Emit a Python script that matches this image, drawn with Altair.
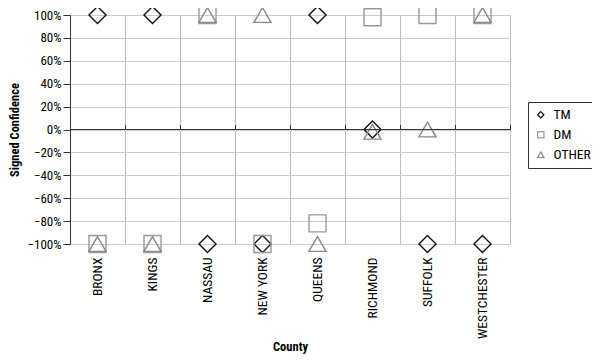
import altair as alt
import pandas as pd

counties = ["BRONX", "KINGS", "NASSAU", "NEW YORK", "QUEENS", "RICHMOND", "SUFFOLK", "WESTCHESTER"]
series = ["TM", "DM", "OTHER"]
tm = [100, 100, -100, -100, 100, 0, -100, -100]
dm = [-100, -100, 100, -100, -82, 98, 100, 100]
other = [-100, -100, 100, 100, -100, -2, 0, 100]
y_ticks = [-100, -80, -60, -40, -20, 0, 20, 40, 60, 80, 100]

rows = []
for name, vals in zip(series, [tm, dm, other]):
    for c, v in zip(counties, vals):
        rows.append({"County": c, "series": name, "value": v})
df = pd.DataFrame(rows)

FONT = "Roboto Condensed, Liberation Sans Narrow, sans-serif"
FS = 13.5
TFS = 12.5

xscale = alt.Scale(domain=counties, paddingInner=0, paddingOuter=0)
yscale = alt.Scale(domain=[-100, 100], nice=False)

yaxis = alt.Axis(title="Signed Confidence", values=y_ticks, labelOverlap=False,
                 labelExpr="replace(format(datum.value, 'd'), '-', '\u2212') + '%'",
                 labelFontSize=13, labelColor="#000", grid=True, gridColor="#cccccc",
                 domain=True, domainColor="#333", ticks=True, tickColor="#333",
                 tickSize=7, labelPadding=2, titleFontWeight="bold", titleFontSize=TFS,
                 titleColor="#000", titleX=-56, titleBaseline="middle")

legend_kw = dict(title=None, orient="none", legendX=458, legendY=87,
                 strokeColor="#333", padding=6, symbolSize=40,
                 symbolStrokeWidth=1.2, labelFontSize=FS, labelColor="#000",
                 rowPadding=5, labelOffset=6)

points = alt.Chart(df).mark_point(filled=False, size=290, strokeWidth=1.4, opacity=1).encode(
    x=alt.X("County:N", sort=counties, scale=xscale,
            axis=alt.Axis(title="County", labelAngle=-90, labelPadding=13, labelFontSize=FS,
                          labelColor="#000", grid=True, gridColor="#bbbbbb", tickBand="extent",
                          ticks=False, domain=False, titleFontWeight="bold", titleFontSize=TFS,
                          titlePadding=2, titleColor="#000")),
    y=alt.Y("value:Q", scale=yscale, axis=yaxis),
    shape=alt.Shape("series:N", scale=alt.Scale(domain=series, range=["diamond", "square", "triangle-up"]),
                    legend=alt.Legend(**legend_kw)),
    color=alt.Color("series:N", scale=alt.Scale(domain=series, range=["#111111", "#999999", "#888888"]),
                    legend=alt.Legend(**legend_kw)),
)

zero = alt.Chart(pd.DataFrame({"value": [0]})).mark_rule(color="#333", strokeWidth=1).encode(
    y=alt.Y("value:Q", scale=yscale, axis=yaxis))

ticks = alt.Chart(df).mark_point(opacity=0).encode(
    x=alt.X("County:N", sort=counties, scale=xscale,
            axis=alt.Axis(title=None, labels=False, grid=False, domain=False, ticks=True,
                          tickColor="#333", tickSize=5, tickBand="extent", offset=-114.5)),
    y=alt.Y("value:Q", scale=yscale, axis=yaxis),
)

chart = alt.layer(points, zero, ticks).resolve_axis(x="independent").properties(
    width=440, height=229,
    autosize=alt.AutoSizeParams(type="none"),
    padding={"left": 62, "top": 7, "right": 82, "bottom": 112},
).configure(font=FONT).configure_view(stroke="#bbbbbb")

chart.save("out.html", embed_options={"renderer": "svg", "actions": False})
